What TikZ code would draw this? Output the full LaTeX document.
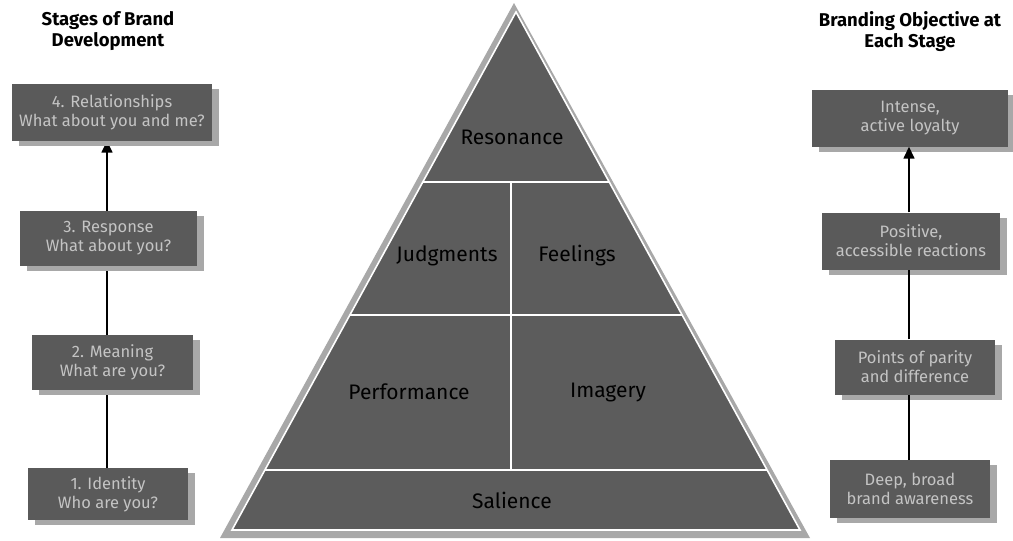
\documentclass[tikz,border=0pt]{standalone}
\usepackage{fontspec}
\setmainfont{Fira Sans}
\usetikzlibrary{shadows,arrows.meta,backgrounds}
\definecolor{boxfill}{HTML}{5A5A5A}
\definecolor{boxtext}{HTML}{C4C4C4}
\definecolor{pyrfill}{HTML}{5C5C5C}
\definecolor{shadowgray}{HTML}{A8A8A8}
\tikzset{
  stagebox/.style={draw=none, fill=boxfill, text=boxtext, align=center, inner sep=0pt,
    font=\fontsize{16.5}{19}\selectfont,
    drop shadow={shadow xshift=7pt, shadow yshift=-5pt, fill=shadowgray, opacity=1}},
  title/.style={font=\fontsize{18.5}{21}\selectfont\bfseries, align=center, text=black},
  pyrlabel/.style={font=\fontsize{21}{23}\selectfont, text=black},
  divider/.style={draw=white, line width=1.6pt},
  conn/.style={draw=black, line width=1.5pt},
  connarrow/.style={conn, -{Triangle[length=12pt,width=11pt]}}
}
\begin{document}
\begin{tikzpicture}[x=1pt,y=-1pt]
\useasboundingbox (0,0) rectangle (1013,541);

% titles
\node[title] (tl) at (108,31) {Stages of Brand\\Development};
\node[title] (tr) at (910,32) {Branding Objective at\\Each Stage};

% pyramid
\fill[shadowgray] (514,3) -- (220,538) -- (810,538) -- cycle;
\fill[pyrfill, draw=white, line width=1.6pt, line join=miter] (516,12) -- (232,530) -- (800,530) -- cycle;
\draw[divider] (422.8,182) -- (609.2,182);
\draw[divider] (349.9,315) -- (682.1,315);
\draw[divider] (264.9,470) -- (767.1,470);
\draw[divider] (511,182) -- (511,470);

\node[pyrlabel] (res) at (512,137) {Resonance};
\node[pyrlabel] (jud) at (447,256) {Judgments};
\node[pyrlabel] (fee) at (577,256) {Feelings};
\node[pyrlabel] (per) at (409,392) {Performance};
\node[pyrlabel] (ima) at (608,392) {Imagery};
\node[pyrlabel] (sal) at (512,500) {Salience};

% left boxes
\node[stagebox, minimum width=200pt, minimum height=57pt] (s4) at (112,112) {4. Relationships\\What about you and me?};
\node[stagebox, minimum width=177pt, minimum height=55pt] (s3) at (108.5,238) {3. Response\\What about you?};
\node[stagebox, minimum width=161pt, minimum height=55pt] (s2) at (112.5,362) {2. Meaning\\What are you?};
\node[stagebox, minimum width=160pt, minimum height=52pt] (s1) at (108,494) {1. Identity\\Who are you?};

% right boxes
\node[stagebox, minimum width=196pt, minimum height=57pt] (o4) at (910,118) {Intense,\\active loyalty};
\node[stagebox, minimum width=178pt, minimum height=57pt] (o3) at (911,241) {Positive,\\accessible reactions};
\node[stagebox, minimum width=160pt, minimum height=55pt] (o2) at (915,367) {Points of parity\\and difference};
\node[stagebox, minimum width=160pt, minimum height=58pt] (o1) at (910,489) {Deep, broad\\brand awareness};

\coordinate (lline) at (107,300);
\coordinate (rline) at (909,300);
\begin{scope}[on background layer]
\fill[white] (0,0) rectangle (1013,541);
\draw[connarrow] (s1.north -| lline) -- (s4.south -| lline);
\end{scope}
\draw[connarrow] (o3.north -| rline) -- (o4.south -| rline);
\draw[conn] (o2.north -| rline) -- (o3.south -| rline);
\draw[conn] (o1.north -| rline) -- (o2.south -| rline);
\end{tikzpicture}
\end{document}
